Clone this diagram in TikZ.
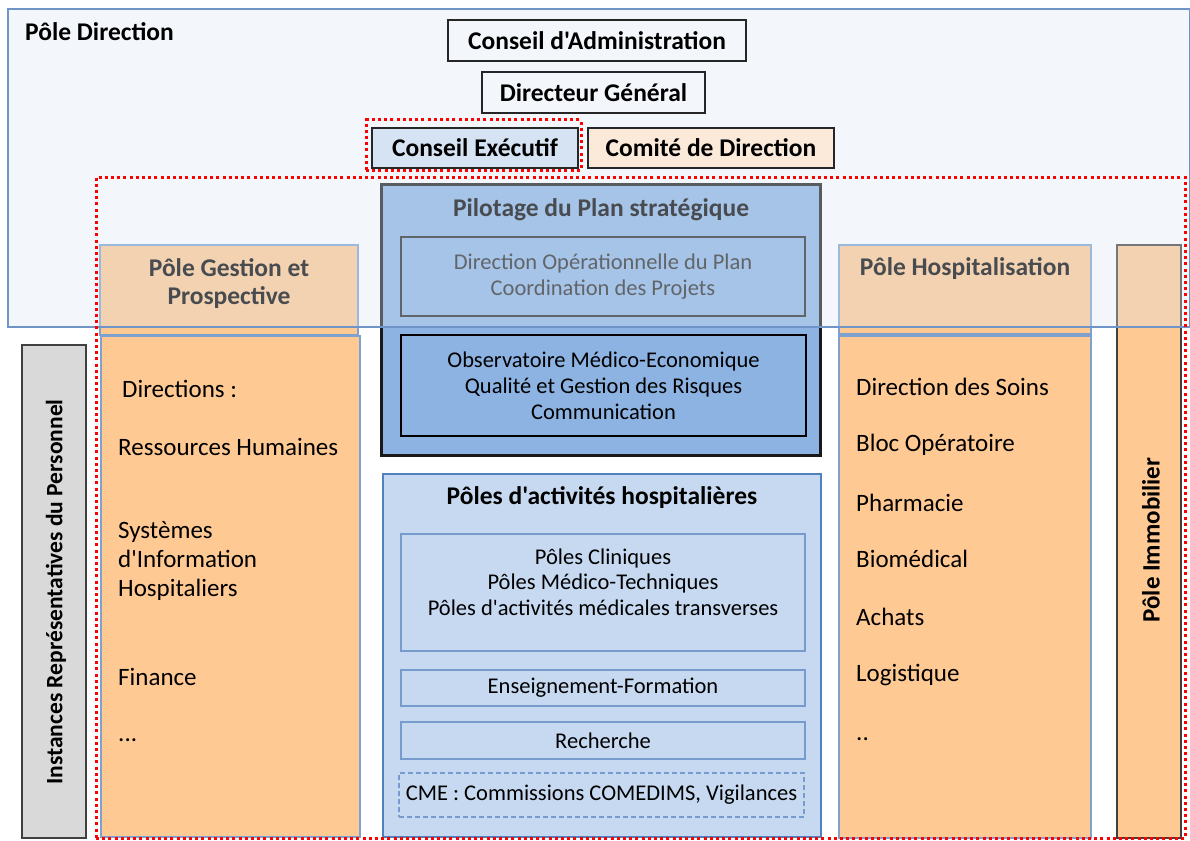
\documentclass[tikz,border=0pt]{standalone}
\usepackage{fontspec}
\setmainfont{Carlito}[Ligatures=TeXOff]
\definecolor{dirfill}{RGB}{219,231,243}
\definecolor{dirline}{RGB}{111,149,200}
\definecolor{orng}{RGB}{255,201,147}
\definecolor{orngline}{RGB}{126,161,208}
\definecolor{pilotfill}{RGB}{141,179,226}
\definecolor{polesfill}{RGB}{198,217,241}
\definecolor{polesline}{RGB}{79,129,189}
\definecolor{innerline}{RGB}{120,155,205}
\definecolor{greyfill}{RGB}{217,217,217}
\definecolor{darkline}{RGB}{64,64,64}
\definecolor{cefill}{RGB}{214,227,242}
\definecolor{cdfill}{RGB}{251,233,218}
\definecolor{dottedred}{RGB}{255,0,0}
\begin{document}
\begin{tikzpicture}[x=1pt,y=-1pt,
  box/.style={draw, inner sep=0pt, outer sep=0pt, rectangle, anchor=center},
  bigfont/.style={font=\fontsize{25}{29}\selectfont},
  bigbold/.style={font=\fontsize{25.5}{28}\selectfont\bfseries},
  midfont/.style={font=\fontsize{22.5}{26}\selectfont},
  smallfont/.style={font=\fontsize{22.5}{25.5}\selectfont},
  topbox/.style={box, draw=black!85, line width=1.3pt, bigbold},
  orngbox/.style={box, fill=orng, draw=orngline, line width=1.3pt},
  innerbox/.style={box, draw=innerline, line width=1.3pt, minimum width=404pt, smallfont},
  reddot/.style={draw=dottedred, line width=3pt, dash pattern=on 3pt off 3.2pt},
  listitem/.style={anchor=west, inner sep=0pt, align=left, bigfont}
]
\useasboundingbox (0,0) rectangle (1190,840);

% ---- Instances
\node[box, fill=greyfill, draw=darkline, line width=1.5pt, minimum width=64pt, minimum height=493pt] (inst) at (54,591.5) {};
\node[rotate=90, font=\fontsize{23.5}{26}\selectfont\bfseries] (instt) at (56,592) {Instances Représentatives du Personnel};

% ---- Pole Gestion
\node[orngbox, minimum width=258pt, minimum height=90pt] (gesth) at (229,290) {};
\node[bigbold, align=center, text=black] (gestt) at (229,284) {Pôle Gestion et\\Prospective};
\node[orngbox, minimum width=259pt, minimum height=501pt] (gestb) at (230.5,586.5) {};
\node[listitem] (g1) at (122,389) {Directions :};
\node[listitem] (g2) at (118,447) {Ressources Humaines};
\node[listitem] (g3) at (118,561) {Systèmes\\d'Information\\Hospitaliers};
\node[listitem] (g4) at (118,677) {Finance};
\node[listitem, anchor=base west] (g5) at (118,741) {...};

% ---- Pilotage
\node[box, fill=pilotfill, draw=black!90, line width=3pt, minimum width=439pt, minimum height=271pt] (pilot) at (600.5,319.5) {};
\node[bigbold, text=black] (pilott) at (601,210) {Pilotage du Plan stratégique};
\node[box, draw=black!85, line width=1.5pt, minimum width=404pt, minimum height=79pt, midfont, align=center, text=black!85] (pb1) at (603,276.5) {Direction Opérationnelle du Plan\\Coordination des Projets};
\node[box, draw=black, line width=1.6pt, minimum width=405pt, minimum height=101pt, midfont, align=center] (pb2) at (603.5,385.5) {Observatoire Médico-Economique\\Qualité et Gestion\ des Risques\\Communication};

% ---- Poles d'activites
\node[box, fill=polesfill, draw=polesline, line width=2.2pt, minimum width=438pt, minimum height=363pt] (poles) at (602,655.5) {};
\node[bigbold] (polest) at (602,498) {Pôles d'activités hospitalières};
\node[innerbox, minimum height=117pt] (cl) at (603,592.5) {};
\node[smallfont, align=center] (clt) at (603,582) {Pôles Cliniques\\Pôles Médico-Techniques\\Pôles d'activités\ médicales transverses};
\node[innerbox, minimum height=36pt] (ef) at (603,688) {Enseignement-Formation};
\node[innerbox, minimum height=37pt] (re) at (603,740.5) {Recherche};
\node[box, draw=innerline, line width=1.3pt, dash pattern=on 5pt off 3pt, minimum width=405pt, minimum height=44pt, smallfont] (cme) at (601.5,795) {CME : Commissions\ COMEDIMS,\ Vigilances};

% ---- Pole Hospitalisation
\node[orngbox, minimum width=252pt, minimum height=89pt] (hosph) at (965,289.5) {};
\node[bigbold] (hospt) at (965,269) {Pôle Hospitalisation};
\node[orngbox, minimum width=252pt, minimum height=502pt] (hospb) at (965,587) {};
\node[listitem] (h1) at (856,387) {Direction des Soins};
\node[listitem] (h2) at (856,445) {Bloc Opératoire};
\node[listitem] (h3) at (856,503) {Pharmacie};
\node[listitem] (h4) at (856,559) {Biomédical};
\node[listitem] (h5) at (856,617) {Achats};
\node[listitem] (h6) at (856,675) {Logistique};
\node[listitem, anchor=base west] (h7) at (856,740) {..};

% ---- Pole Immobilier
\node[box, fill=orng, draw=darkline, line width=1.5pt, minimum width=64pt, minimum height=593pt] (immo) at (1149,541.5) {};
\node[rotate=90, font=\fontsize{25}{28}\selectfont\bfseries] (immot) at (1151,540) {Pôle Immobilier};

% ---- Pole Direction overlay
\node[box, fill=dirfill, fill opacity=0.33, draw=dirline, draw opacity=1, line width=1.3pt, minimum width=1182pt, minimum height=318pt] (dir) at (599,168) {};
\node[anchor=west, inner sep=0pt, font=\fontsize{25.5}{28}\selectfont\bfseries] (dirt) at (25,32) {Pôle Direction};

% ---- top boxes
\node[topbox, minimum width=298pt, minimum height=41pt] (ca) at (597,40.5) {Conseil d'Administration};
\node[topbox, minimum width=223pt, minimum height=41pt] (dg) at (593.5,92.5) {Directeur Général};
\node[topbox, fill=cefill, minimum width=206pt, minimum height=40pt] (ce) at (475,148) {Conseil Exécutif};
\node[topbox, fill=cdfill, minimum width=246pt, minimum height=40pt] (cd) at (711,148) {Comité de Direction};

% ---- red dotted frames
\node[box, reddot, minimum width=215pt, minimum height=50pt] (cered) at (473.5,145) {};
\node[box, reddot, minimum width=1089pt, minimum height=661pt] (bigred) at (640.5,507.5) {};
\end{tikzpicture}
\end{document}
